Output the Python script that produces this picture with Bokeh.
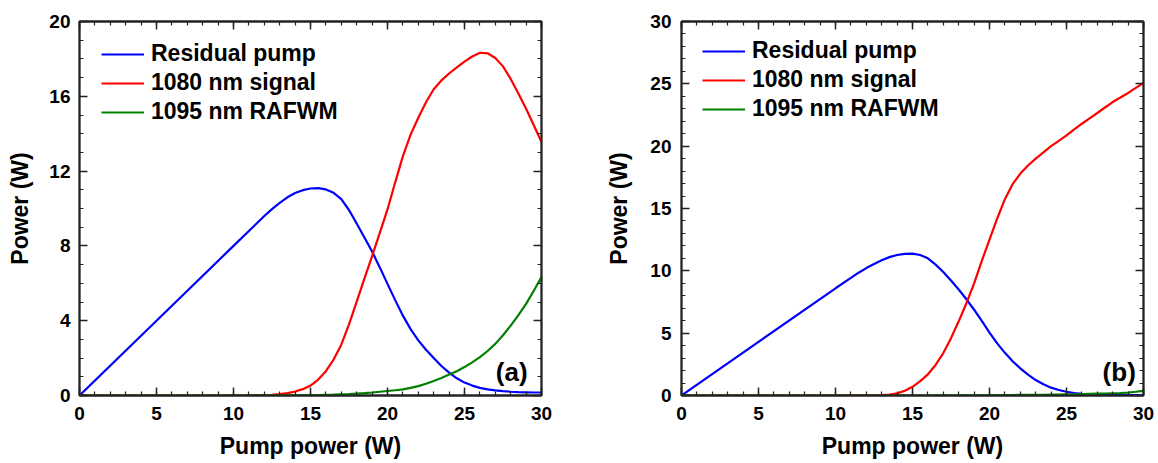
from bokeh.plotting import figure
from bokeh.layouts import row
from bokeh.models import Range1d, LinearAxis, SingleIntervalTicker, Label, CustomJSTickFormatter
from bokeh.embed import file_html
from bokeh.resources import INLINE

# ---------------- data ----------------
pump_power = [0, 5, 10, 11, 11.5, 12, 12.5, 13, 13.5, 14, 14.5, 15, 15.5, 16, 16.5,
              17, 17.5, 18, 18.5, 19, 19.5, 20, 20.5, 21, 21.5, 22, 22.5, 23, 23.5,
              24, 24.5, 25, 25.5, 26, 26.5, 27, 27.5, 28, 28.5, 29, 29.5, 30]

residual_a = [0, 4.0, 8.0, 8.8, 9.2, 9.6, 9.97, 10.3, 10.6, 10.83, 10.98, 11.07, 11.09,
              11.02, 10.84, 10.5, 9.92, 9.2, 8.45, 7.7, 6.85, 5.97, 5.1, 4.27, 3.55,
              2.95, 2.45, 2.0, 1.58, 1.22, 0.92, 0.69, 0.53, 0.41, 0.33, 0.27, 0.23, 0.2,
              0.18, 0.17, 0.16, 0.16]
signal_a = [0, 0, 0, 0.005, 0.01, 0.02, 0.04, 0.08, 0.13, 0.21, 0.34, 0.53, 0.85, 1.3,
            1.92, 2.72, 3.8, 5.02, 6.25, 7.45, 8.7, 9.95, 11.4, 12.8, 13.95, 14.85, 15.68,
            16.38, 16.85, 17.22, 17.55, 17.85, 18.13, 18.33, 18.3, 18.05, 17.6, 16.93,
            16.15, 15.33, 14.45, 13.55]
rafwm_a = [0, 0, 0, 0.003, 0.004, 0.005, 0.006, 0.008, 0.01, 0.012, 0.015, 0.02, 0.025,
           0.035, 0.045, 0.06, 0.075, 0.1, 0.125, 0.16, 0.2, 0.24, 0.28, 0.33, 0.41, 0.5,
           0.63, 0.78, 0.94, 1.12, 1.3, 1.52, 1.77, 2.05, 2.38, 2.76, 3.22, 3.74, 4.3,
           4.9, 5.6, 6.33]

residual_b = [0, 4.3, 8.6, 9.43, 9.85, 10.22, 10.55, 10.85, 11.1, 11.27, 11.36, 11.38,
              11.27, 11.0, 10.5, 9.9, 9.22, 8.5, 7.72, 6.88, 5.98, 5.05, 4.18, 3.42,
              2.75, 2.18, 1.68, 1.24, 0.9, 0.63, 0.44, 0.3, 0.2, 0.13, 0.1, 0.08, 0.06,
              0.05, 0.04, 0.03, 0.03, 0.02]
signal_b = [0, 0, 0, 0.003, 0.006, 0.01, 0.02, 0.04, 0.08, 0.17, 0.38, 0.7, 1.15, 1.7,
            2.45, 3.4, 4.6, 5.95, 7.4, 9.0, 10.8, 12.5, 14.2, 15.75, 16.95, 17.8, 18.45,
            19.0, 19.5, 20.0, 20.43, 20.87, 21.35, 21.8, 22.23, 22.66, 23.1, 23.54, 23.9,
            24.27, 24.67, 25.07]
rafwm_b = [0, 0, 0, 0, 0, 0, 0, 0, 0, 0, 0, 0, 0, 0.002, 0.003, 0.005, 0.007, 0.01,
           0.012, 0.015, 0.02, 0.025, 0.03, 0.035, 0.04, 0.045, 0.05, 0.055, 0.06, 0.07,
           0.08, 0.09, 0.1, 0.115, 0.13, 0.145, 0.16, 0.18, 0.2, 0.235, 0.3, 0.37]

series_names = ["Residual pump", "1080 nm signal", "1095 nm RAFWM"]
series_colors = ["#0000FF", "#FF0000", "#008000"]

FONT = "Liberation Sans"
AXIS_COLOR = "#222222"


def style_axis(ax, ticker, labels=True, size="19px", standoff=8):
    ax.ticker = ticker
    ax.major_tick_in = 8
    ax.major_tick_out = 0
    ax.minor_tick_in = 4
    ax.minor_tick_out = 0
    ax.major_tick_line_color = AXIS_COLOR
    ax.minor_tick_line_color = AXIS_COLOR
    ax.major_tick_line_width = 1.5
    ax.minor_tick_line_width = 1.2
    ax.axis_line_color = AXIS_COLOR
    ax.axis_line_width = 1.8
    if labels:
        ax.major_label_text_font = FONT
        ax.major_label_text_font_style = "bold"
        ax.major_label_text_font_size = size
        ax.major_label_text_color = "black"
        ax.major_label_standoff = standoff
    else:
        ax.formatter = CustomJSTickFormatter(code="return ''")
        ax.major_label_standoff = 0


def make_panel(ys, y_max, y_step, width, border_left, border_right, panel_text,
               label_x, label_y, legend_loc, ylab_standoff, ytick_standoff):
    p = figure(width=width, height=463, output_backend="svg", toolbar_location=None,
               x_range=Range1d(0, 30), y_range=Range1d(0, y_max),
               min_border_left=border_left, min_border_right=border_right,
               min_border_top=21, min_border_bottom=68)
    p.grid.visible = False
    p.outline_line_color = AXIS_COLOR
    p.outline_line_width = 1.8
    p.background_fill_color = "white"
    p.border_fill_color = "white"

    for y, name, col in zip(ys, series_names, series_colors):
        p.line(pump_power, y, line_color=col, line_width=2.2, legend_label=name)

    xt = SingleIntervalTicker(interval=5, num_minor_ticks=5)
    yt = SingleIntervalTicker(interval=y_step, num_minor_ticks=y_step)

    style_axis(p.xaxis[0], xt, standoff=11)
    style_axis(p.yaxis[0], yt, standoff=ytick_standoff)
    p.xaxis.axis_label = "Pump power (W)"
    p.yaxis.axis_label = "Power (W)"
    for ax in (p.xaxis[0], p.yaxis[0]):
        ax.axis_label_text_font = FONT
        ax.axis_label_text_font_style = "bold"
        ax.axis_label_text_font_size = "23px"
        ax.axis_label_text_color = "black"
    p.xaxis.axis_label_standoff = 10
    p.yaxis.axis_label_standoff = ylab_standoff

    top = LinearAxis()
    style_axis(top, SingleIntervalTicker(interval=5, num_minor_ticks=5), labels=False)
    p.add_layout(top, "above")
    right = LinearAxis()
    style_axis(right, SingleIntervalTicker(interval=y_step, num_minor_ticks=y_step), labels=False)
    p.add_layout(right, "right")

    lg = p.legend[0]
    lg.location = legend_loc
    lg.margin = 0
    lg.padding = 0
    lg.border_line_alpha = 0
    lg.background_fill_alpha = 0
    lg.label_text_font = FONT
    lg.label_text_font_style = "bold"
    lg.label_text_font_size = "23px"
    lg.label_text_color = "black"
    lg.glyph_width = 43
    lg.glyph_height = 26
    lg.label_height = 26
    lg.label_standoff = 7
    lg.spacing = 2

    p.add_layout(Label(x=label_x, y=label_y, text=panel_text, text_align="right",
                       text_baseline="bottom", text_font=FONT, text_font_style="bold",
                       text_font_size="26px", text_color="black"))
    return p


p1 = make_panel([residual_a, signal_a, rafwm_a], 20, 4, 588, 79, 47, "(a)",
                29.1, 0.45, (22, 270), 13, 9)
p2 = make_panel([residual_b, signal_b, rafwm_b], 30, 5, 570, 93, 15, "(b)",
                29.5, 0.7, (21, 273), 15, 10)

layout = row(p1, p2)
open("out.html", "w").write(file_html(layout, INLINE))
